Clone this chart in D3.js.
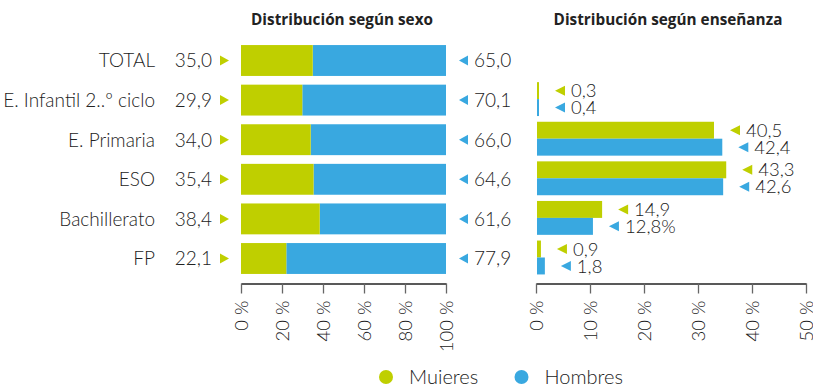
<!DOCTYPE html>
<html>
<head>
<meta charset="utf-8">
<script src="https://cdn.jsdelivr.net/npm/d3@7/dist/d3.min.js"></script>
<style>
  html, body { margin: 0; padding: 0; background: #fff; }
  svg { display: block; font-family: Lato, "Open Sans", sans-serif; }
</style>
</head>
<body>
<svg id="chart" width="813" height="384"></svg>
<script>
// Categories (rows)
const categories = ["TOTAL", "E. Infantil 2..º ciclo", "E. Primaria", "ESO", "Bachillerato", "FP"];

// Distribution by sex (% of each level)
const sexMujeres = [35.0, 29.9, 34.0, 35.4, 38.4, 22.1];
const sexHombres = [65.0, 70.1, 66.0, 64.6, 61.6, 77.9];

// Distribution by teaching level (% of each sex); TOTAL has no bars
const eduMujeres = [null, 0.3, 40.5, 43.3, 14.9, 0.9];
const eduHombres = [null, 0.4, 42.4, 42.6, 12.8, 1.8];
const eduHombresSuffix = ["", "", "", "", "%", ""];

// Axis ticks
const sexTicks = [0, 20, 40, 60, 80, 100];
const eduTicks = [0, 10, 20, 30, 40, 50];

// Legend
const seriesNames = ["Mujeres", "Hombres"];

const GREEN = "#bfcf00";
const BLUE = "#39a8e0";
const TEXT = "#222";
const FS = 19;

const svg = d3.select("#chart");
const fmt = v => v.toFixed(1).replace(".", ",");

// Shared row scale
const y = d3.scaleBand()
  .domain(categories)
  .range([40.7, 278.3])
  .paddingInner(0.22)
  .paddingOuter(0.11);

function title(x, txt) {
  svg.append("text")
    .attr("x", x).attr("y", 25)
    .attr("text-anchor", "middle")
    .attr("font-family", "'Open Sans', sans-serif")
    .attr("font-size", 15.3).attr("font-weight", 700)
    .attr("fill", TEXT)
    .text(txt);
}

// ---------- Left panel: by sex ----------
const xSex = d3.scaleLinear().domain([0, 100]).range([241, 446]);

title(342, "Distribución según sexo");

const rows = svg.append("g").selectAll("g")
  .data(categories.map((c, i) => ({ c, m: sexMujeres[i], h: sexHombres[i], i })))
  .join("g");

rows.append("rect")
  .attr("x", d => xSex(d.m))
  .attr("y", d => y(d.c))
  .attr("width", d => xSex(100) - xSex(d.m))
  .attr("height", y.bandwidth())
  .attr("fill", BLUE);

rows.append("rect")
  .attr("x", xSex(0))
  .attr("y", d => y(d.c))
  .attr("width", d => xSex(d.m) - xSex(0))
  .attr("height", y.bandwidth())
  .attr("fill", GREEN);

// category names
rows.append("text")
  .attr("x", 155)
  .attr("y", d => y(d.c) + y.bandwidth() / 2)
  .attr("dy", "0.36em")
  .attr("text-anchor", "end")
  .attr("font-size", FS).attr("font-weight", 300)
  .attr("fill", TEXT)
  .text(d => d.c);

// women value + right-pointing marker
rows.append("text")
  .attr("x", 212)
  .attr("y", d => y(d.c) + y.bandwidth() / 2)
  .attr("dy", "0.36em")
  .attr("text-anchor", "end")
  .attr("font-size", FS).attr("font-weight", 300)
  .attr("fill", TEXT)
  .text(d => fmt(d.m));

rows.append("path")
  .attr("d", d => {
    const cy = y(d.c) + y.bandwidth() / 2;
    return `M220,${cy - 5}L229,${cy}L220,${cy + 5}Z`;
  })
  .attr("fill", GREEN);

// men value + left-pointing marker
rows.append("path")
  .attr("d", d => {
    const cy = y(d.c) + y.bandwidth() / 2;
    return `M468,${cy - 5}L459,${cy}L468,${cy + 5}Z`;
  })
  .attr("fill", BLUE);

rows.append("text")
  .attr("x", 474)
  .attr("y", d => y(d.c) + y.bandwidth() / 2)
  .attr("dy", "0.36em")
  .attr("font-size", FS).attr("font-weight", 300)
  .attr("fill", TEXT)
  .text(d => fmt(d.h));

// ---------- Right panel: by teaching level ----------
const eduBar = d3.scaleLinear().domain([0, 50]).range([537, 537 + 218.5]);
const eduAxis = d3.scaleLinear().domain([0, 50]).range([536, 806]);

title(668, "Distribución según enseñanza");

const sub = d3.scaleBand()
  .domain(["m", "h"])
  .range([-2.5, y.bandwidth() + 0.5]);

const eduData = [];
categories.forEach((c, i) => {
  if (eduMujeres[i] != null) eduData.push({ c, k: "m", v: eduMujeres[i], label: fmt(eduMujeres[i]) });
  if (eduHombres[i] != null) eduData.push({ c, k: "h", v: eduHombres[i], label: fmt(eduHombres[i]) + eduHombresSuffix[i] });
});

const eduG = svg.append("g").selectAll("g").data(eduData).join("g");

eduG.append("rect")
  .attr("x", eduBar(0))
  .attr("y", d => y(d.c) + sub(d.k))
  .attr("width", d => Math.max(2, eduBar(d.v) - eduBar(0)))
  .attr("height", sub.bandwidth())
  .attr("fill", d => d.k === "m" ? GREEN : BLUE);

eduG.append("path")
  .attr("d", d => {
    const cy = y(d.c) + sub(d.k) + sub.bandwidth() / 2;
    const x0 = Math.max(eduBar(0) + 2, eduBar(d.v)) + 16;
    return `M${x0 + 10},${cy - 5}L${x0},${cy}L${x0 + 10},${cy + 5}Z`;
  })
  .attr("fill", d => d.k === "m" ? GREEN : BLUE);

eduG.append("text")
  .attr("x", d => Math.max(eduBar(0) + 2, eduBar(d.v)) + 32)
  .attr("y", d => y(d.c) + sub(d.k) + sub.bandwidth() / 2)
  .attr("dy", "0.36em")
  .attr("font-size", 18.5).attr("font-weight", 300)
  .attr("fill", TEXT)
  .text(d => d.label);

// ---------- Axes ----------
function drawAxis(scale, ticks) {
  const g = svg.append("g")
    .attr("transform", "translate(0,283.5)")
    .call(d3.axisBottom(scale).tickValues(ticks).tickSize(10).tickSizeOuter(0).tickFormat(d => d + " %"));
  g.select(".domain").attr("stroke", "#222").attr("stroke-width", 1.3);
  g.selectAll(".tick line").attr("stroke", "#666").attr("stroke-width", 1.3);
  g.selectAll(".tick text")
    .attr("font-family", "Lato, sans-serif")
    .attr("font-size", 18.5).attr("font-weight", 300)
    .attr("fill", TEXT)
    .attr("text-anchor", "end")
    .attr("y", 0).attr("dy", "0.36em")
    .attr("transform", "translate(0,17) rotate(-90)");
}
drawAxis(xSex, sexTicks);
drawAxis(eduAxis, eduTicks);

// ---------- Legend ----------
const legendX = [386, 521.5];
const legend = svg.append("g").selectAll("g").data(seriesNames).join("g")
  .attr("transform", (d, i) => `translate(${legendX[i]},377)`);
legend.append("circle").attr("r", 7).attr("fill", (d, i) => i === 0 ? GREEN : BLUE);
legend.append("text")
  .attr("x", 23).attr("y", 6.5)
  .attr("font-size", 20).attr("font-weight", 300)
  .attr("fill", TEXT)
  .text(d => d);
</script>
</body>
</html>
